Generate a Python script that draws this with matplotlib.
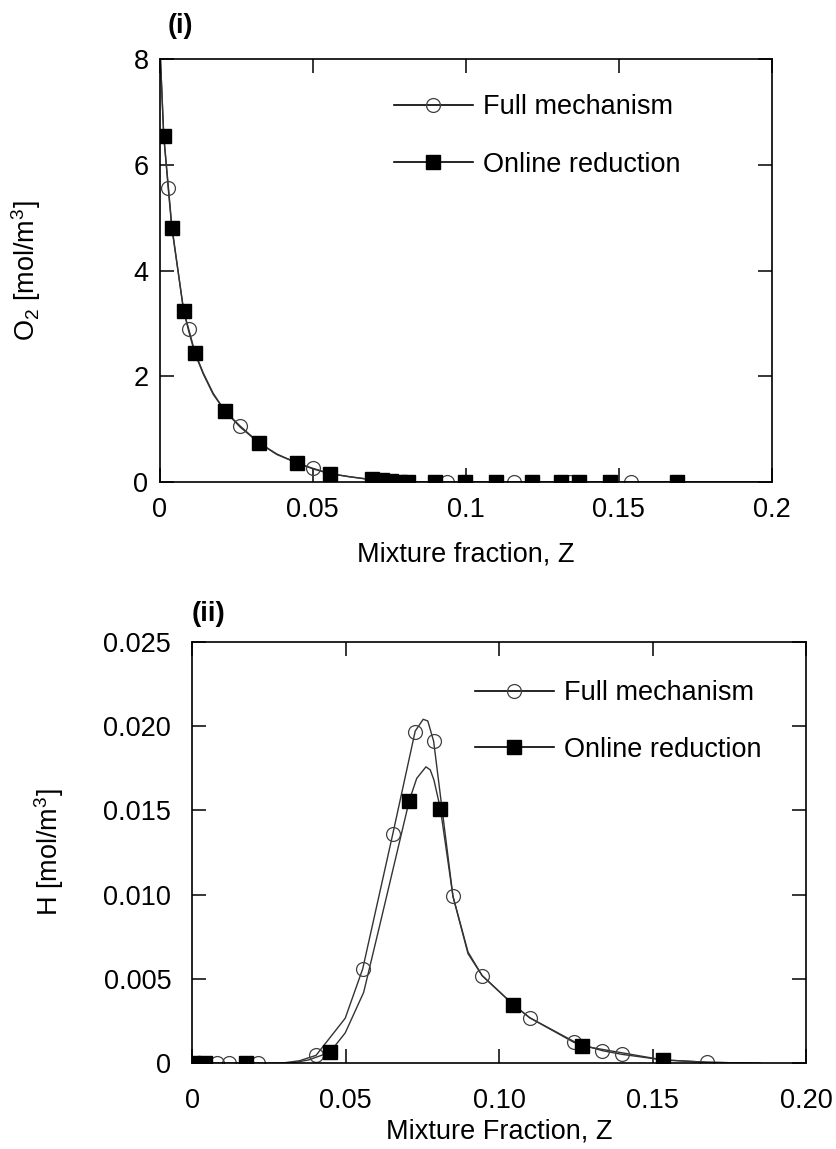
import matplotlib
matplotlib.use("Agg")
import matplotlib.pyplot as plt
from matplotlib.lines import Line2D

plt.rcParams['font.family'] = ['Liberation Sans', 'DejaVu Sans']
plt.rcParams['mathtext.default'] = 'regular'

# ---- panel (i): O2 vs mixture fraction ----
o2_line_z = [0, 0.0003, 0.00137, 0.0029, 0.004, 0.0079, 0.0095, 0.0115, 0.0143, 0.0175, 0.0214,
             0.0263, 0.0325, 0.0383, 0.0448, 0.050, 0.0556, 0.062, 0.0695, 0.075, 0.081, 0.09, 0.2]
o2_full_line = [8.8, 8.0, 6.55, 5.57, 4.85, 3.22, 2.90, 2.46, 2.06, 1.68, 1.34,
                1.06, 0.74, 0.53, 0.36, 0.26, 0.16, 0.10, 0.04, 0.015, 0.004, 0, 0]
o2_red_line = [8.8, 8.0, 6.55, 5.52, 4.81, 3.24, 2.86, 2.44, 2.04, 1.66, 1.34,
               1.04, 0.74, 0.52, 0.365, 0.25, 0.157, 0.10, 0.045, 0.015, 0.005, 0, 0]

o2_full_z = [0.0029, 0.0095, 0.0263, 0.050, 0.071, 0.0789, 0.094, 0.1156, 0.1339, 0.1541]
o2_full = [5.57, 2.90, 1.06, 0.26, 0.03, 0.006, 0, 0, 0, 0]
o2_red_z = [0.00137, 0.0040, 0.0079, 0.0115, 0.0214, 0.0325, 0.0448, 0.0556, 0.0695, 0.0725,
            0.0755, 0.0785, 0.081, 0.0898, 0.0996, 0.110, 0.1217, 0.131, 0.137, 0.147, 0.169]
o2_red = [6.55, 4.81, 3.24, 2.44, 1.34, 0.74, 0.365, 0.157, 0.05, 0.03,
          0.015, 0.008, 0.004, 0, 0, 0, 0, 0, 0, 0, 0]

# ---- panel (ii): H vs mixture fraction ----
h_full_line_z = [0, 0.025, 0.030, 0.035, 0.0404, 0.0499, 0.0556, 0.0654, 0.0727, 0.0753, 0.0768,
                 0.0787, 0.0850, 0.0899, 0.0945, 0.1045, 0.110, 0.1244, 0.1336, 0.140, 0.1534,
                 0.1679, 0.185]
h_full_line = [0, 0, 0.00003, 0.00015, 0.00047, 0.00267, 0.0056, 0.0136, 0.0197, 0.0204, 0.0203,
               0.0191, 0.0099, 0.0065, 0.0052, 0.0035, 0.0027, 0.00124, 0.00075, 0.00053, 0.0002,
               0.00006, 0]
h_red_line_z = [0, 0.028, 0.033, 0.038, 0.0449, 0.0499, 0.0559, 0.0613, 0.0708, 0.0732, 0.0762,
                0.0776, 0.0788, 0.0809, 0.0850, 0.0899, 0.0945, 0.1045, 0.110, 0.1271, 0.1534,
                0.1679, 0.185]
h_red_line = [0, 0, 0.00003, 0.0002, 0.00065, 0.0018, 0.0042, 0.0083, 0.0156, 0.0169, 0.01758,
              0.0174, 0.0168, 0.0151, 0.0099, 0.0066, 0.0052, 0.0035, 0.0027, 0.00103, 0.0002,
              0.00006, 0]

h_full_z = [0.0028, 0.0082, 0.0119, 0.0216, 0.0404, 0.0556, 0.0654, 0.0727, 0.0787, 0.0850,
            0.0945, 0.110, 0.1244, 0.1336, 0.140, 0.1679]
h_full = [0, 0, 0, 0, 0.00047, 0.00559, 0.01361, 0.01966, 0.01913, 0.00992,
          0.00517, 0.00267, 0.00124, 0.00075, 0.00053, 0.00006]
h_red_z = [0.0002, 0.0043, 0.0177, 0.0449, 0.0708, 0.0809, 0.1045, 0.1271, 0.1534]
h_red = [0, 0, 0, 0.00065, 0.01557, 0.01506, 0.00346, 0.00103, 0.0002]

labels = ['Full mechanism', 'Online reduction']

top_xticks = [0, 0.05, 0.1, 0.15, 0.2]
top_xticklabels = ['0', '0.05', '0.1', '0.15', '0.2']
top_yticks = [0, 2, 4, 6, 8]
bot_xticks = [0, 0.05, 0.10, 0.15, 0.20]
bot_xticklabels = ['0', '0.05', '0.10', '0.15', '0.20']
bot_yticks = [0, 0.005, 0.010, 0.015, 0.020, 0.025]
bot_yticklabels = ['0', '0.005', '0.010', '0.015', '0.020', '0.025']

FS = 19.5
LINE_C = '#333333'
circ = dict(marker='o', ms=10, mfc='none', mec='#404040', mew=0.9, ls='none')
sq = dict(marker='s', ms=10, color='black', ls='none')


def style_axes(ax, xpad, ypad):
    for s in ax.spines.values():
        s.set_linewidth(1.2)
    ax.tick_params(direction='in', length=10, width=1.1, top=True, right=True,
                   labelsize=FS)
    ax.tick_params(axis='x', pad=xpad)
    ax.tick_params(axis='y', pad=ypad)


def add_legend(ax, anchor, spacing):
    handles = [Line2D([], [], color='black', lw=1.2, marker='o', ms=10, mfc='none',
                      mec='#404040', mew=0.9),
               Line2D([], [], color='black', lw=1.2, marker='s', ms=10, mfc='black', mec='black')]
    ax.legend(handles, labels, loc='upper left', bbox_to_anchor=anchor, frameon=False,
              fontsize=FS, handlelength=2.9, handletextpad=0.4, labelspacing=spacing,
              borderpad=0, borderaxespad=0, numpoints=1)


fig = plt.figure(figsize=(8.37, 11.49), dpi=100)

# panel (i)
ax1 = fig.add_axes([0.1906, 0.5805, 0.7317, 0.3681])
ax1.plot(o2_line_z, o2_full_line, color=LINE_C, lw=1.0)
ax1.plot(o2_line_z, o2_red_line, color=LINE_C, lw=1.0)
ax1.plot(o2_full_z, o2_full, **circ)
ax1.plot(o2_red_z, o2_red, **sq)
ax1.set_xlim(0, 0.2)
ax1.set_ylim(0, 8)
ax1.set_xticks(top_xticks)
ax1.set_xticklabels(top_xticklabels)
ax1.set_yticks(top_yticks)
style_axes(ax1, 11, 8)
ax1.set_xlabel('Mixture fraction, Z', fontsize=FS, labelpad=13)
ax1.set_ylabel('O$_2$ [mol/m$^3$]', fontsize=FS)
ax1.yaxis.set_label_coords(-0.19, 0.5)
add_legend(ax1, (0.383, 0.917), 1.16)
fig.text(168 / 837, 1 - 26 / 1149, '(i)', fontsize=19.5, fontweight='bold', va='center')

# panel (ii)
ax2 = fig.add_axes([0.2294, 0.0746, 0.7336, 0.3669])
ax2.plot(h_full_line_z, h_full_line, color=LINE_C, lw=1.0)
ax2.plot(h_red_line_z, h_red_line, color=LINE_C, lw=1.0)
ax2.plot(h_full_z, h_full, **circ)
ax2.plot(h_red_z, h_red, **sq)
ax2.set_xlim(0, 0.2)
ax2.set_ylim(0, 0.025)
ax2.set_xticks(bot_xticks)
ax2.set_xticklabels(bot_xticklabels)
ax2.set_yticks(bot_yticks)
ax2.set_yticklabels(bot_yticklabels)
style_axes(ax2, 18, 15)
ax2.set_xlabel('Mixture Fraction, Z', fontsize=FS, labelpad=3)
ax2.set_ylabel('H [mol/m$^3$]', fontsize=FS)
ax2.yaxis.set_label_coords(-0.205, 0.5)
add_legend(ax2, (0.461, 0.909), 1.13)
fig.text(192 / 837, 1 - 614 / 1149, '(ii)', fontsize=20, fontweight='bold', va='center')

fig.savefig('out.png', dpi=100)
